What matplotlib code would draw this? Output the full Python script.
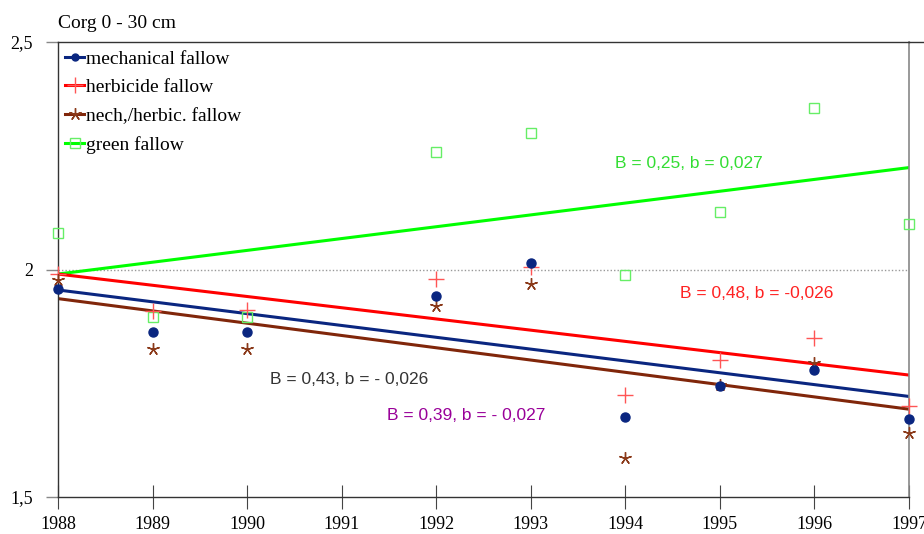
import matplotlib
matplotlib.use("Agg")
import matplotlib.pyplot as plt
from matplotlib.lines import Line2D
import numpy as np

# ---------------- data ----------------
years = [1988, 1989, 1990, 1992, 1993, 1994, 1995, 1996, 1997]
mechanical = [1.958, 1.862, 1.862, 1.941, 2.015, 1.675, 1.743, 1.780, 1.672]
herbicide = [1.990, 1.908, 1.912, 1.980, 2.006, 1.725, 1.802, 1.850, 1.700]
mech_herb = [1.978, 1.826, 1.826, 1.920, 1.969, 1.585, 1.747, 1.795, 1.640]
green = [2.081, 1.895, 1.895, 2.259, 2.299, 1.989, 2.127, 2.354, 2.101]

trend_years = [1988, 1997]
trend_mechanical = [1.955, 1.721]
trend_herbicide = [1.990, 1.768]
trend_mech_herb = [1.936, 1.693]
trend_green = [1.990, 2.224]

labels = ["mechanical fallow", "herbicide fallow", "nech,/herbic. fallow", "green fallow"]
annotations = ["B = 0,43, b = - 0,026", "B = 0,39, b = - 0,027",
               "B = 0,25, b = 0,027", "B = 0,48, b = -0,026"]
xticks = list(range(1988, 1998))
yticks = [1.5, 2.0, 2.5]
ytick_labels = ["1,5", "2", "2,5"]
title = "Corg 0 - 30 cm"

# ---------------- style ----------------
C_BLUE = "#0a2680"
C_RED = "#ff0000"
C_BROWN = "#80260a"
C_GREEN = "#00ff00"
C_GREEN_M = "#66ee66"
C_RED_M = "#ff5555"
C_BROWN_M = "#8b3a1a"

W, H = 924, 534
fig = plt.figure(figsize=(W / 100, H / 100), dpi=100)
L, R, T, B = 58, 909, 42, 497
ax = fig.add_axes([L / W, 1 - B / H, (R - L) / W, (B - T) / H])

serif = "Liberation Serif"
sans = "Liberation Sans"

# dotted reference line at 2
ax.axhline(2.0, color="#999999", lw=1.0, ls=(0, (1, 1.5)), zorder=1)

# trend lines
ax.plot(trend_years, trend_green, color=C_GREEN, lw=2.2, zorder=2)
ax.plot(trend_years, trend_herbicide, color=C_RED, lw=2.2, zorder=2)
ax.plot(trend_years, trend_mechanical, color=C_BLUE, lw=2.2, zorder=2)
ax.plot(trend_years, trend_mech_herb, color=C_BROWN, lw=2.2, zorder=2)

# points
ax.plot(years, green, ls="none", marker="s", ms=7, mfc="none", mec=C_GREEN_M, mew=1.0, zorder=3, clip_on=False)
ax.plot(years, herbicide, ls="none", marker="+", ms=11, mec=C_RED_M, mew=1.0, zorder=4, clip_on=False)
ax.plot(years, mech_herb, ls="none", marker=(5, 2, 0), ms=9, mec=C_BROWN_M, mew=1.0, zorder=5, clip_on=False)
ax.plot(years, mechanical, ls="none", marker="o", ms=6.5, mfc=C_BLUE, mec=C_BLUE, zorder=6, clip_on=False)

ax.set_xlim(1988, 1997)
ax.set_ylim(1.5, 2.5)

ax.set_xticks(xticks)
ax.set_xticklabels([str(y) for y in xticks], fontfamily=serif, fontsize=13)
ax.set_yticks(yticks)
ax.set_yticklabels(ytick_labels, fontfamily=serif, fontsize=13)
ax.tick_params(axis="x", direction="inout", length=17, width=0.8, color="#444444", pad=5)
ax.tick_params(axis="y", direction="out", length=9, width=1.0, color="#888888", pad=9)

for s in ["left", "bottom", "top"]:
    ax.spines[s].set_color("#333333")
    ax.spines[s].set_linewidth(1.0)
ax.spines["right"].set_color("#888888")
ax.spines["right"].set_linewidth(1.2)

# top line extends to figure right edge
fig.add_artist(Line2D([R / W, 1.0], [1 - T / H, 1 - T / H], color="#333333", lw=1.0))

# title
fig.text(58 / W, 1 - 24 / H, title, fontfamily=serif, fontsize=14, va="center", ha="left")

# legend
handles = [
    Line2D([], [], color=C_BLUE, lw=2.2, marker="o", ms=5, mfc=C_BLUE, mec=C_BLUE),
    Line2D([], [], color=C_RED, lw=2.2, marker="+", ms=11, mec=C_RED_M, mew=1.0),
    Line2D([], [], color=C_BROWN, lw=2.2, marker=(5, 2, 0), ms=9, mec=C_BROWN_M, mew=1.0),
    Line2D([], [], color=C_GREEN, lw=2.2, marker="s", ms=7, mfc="none", mec=C_GREEN_M, mew=1.0),
]
leg = ax.legend(handles, labels, loc="upper left", bbox_to_anchor=(7 / (R - L), 1 - 8 / (B - T)),
                frameon=False, prop={"family": serif, "size": 14}, handlelength=1.0,
                handletextpad=0.1, labelspacing=0.57, borderaxespad=0, borderpad=0, numpoints=1)

# annotations
def px(x, y):
    return (x - L) / (R - L), (B - y) / (B - T)

ax.text(*px(270, 379), annotations[0], transform=ax.transAxes, color="#333333",
        fontfamily=sans, fontsize=12.5, va="center", ha="left")
ax.text(*px(387, 415), annotations[1], transform=ax.transAxes, color="#990099",
        fontfamily=sans, fontsize=12.5, va="center", ha="left")
ax.text(*px(615, 164), annotations[2], transform=ax.transAxes, color="#33dd33",
        fontfamily=sans, fontsize=12.5, va="center", ha="left")
ax.text(*px(680, 294), annotations[3], transform=ax.transAxes, color="#ff2222",
        fontfamily=sans, fontsize=12.5, va="center", ha="left")

fig.savefig("out.png", dpi=100)
